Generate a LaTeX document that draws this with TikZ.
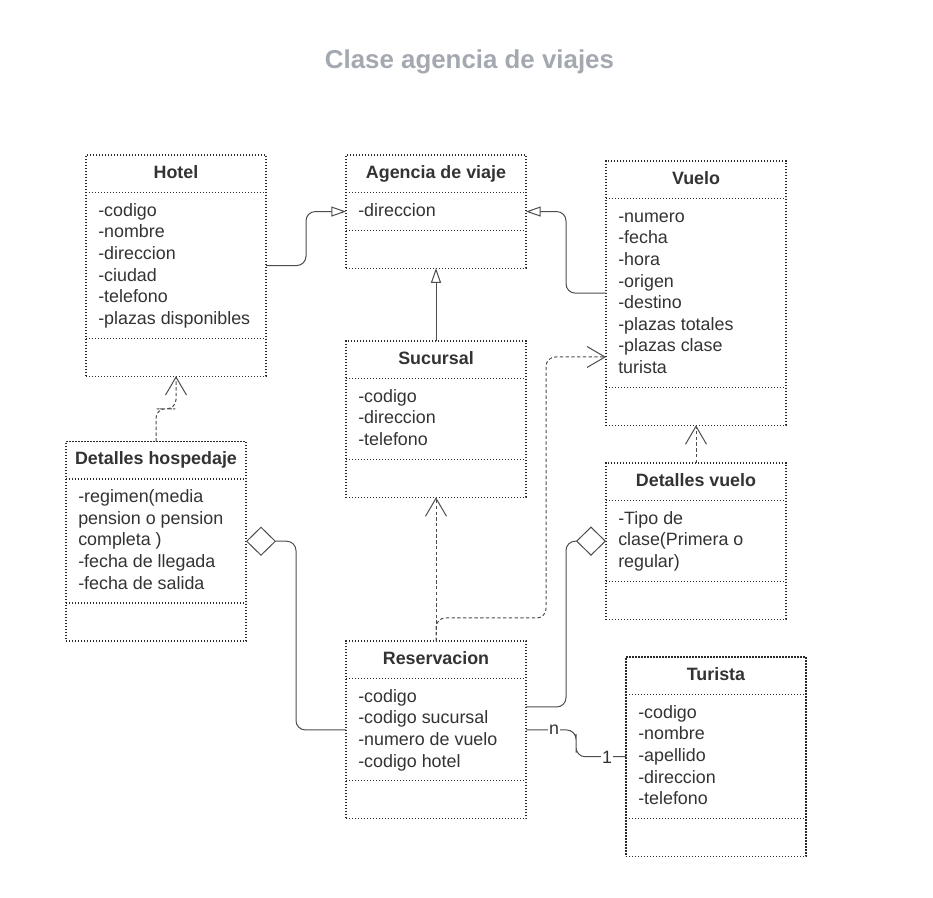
\documentclass[tikz,border=0pt]{standalone}
\usepackage{fontspec}
\setmainfont{Liberation Sans}
\usetikzlibrary{arrows.meta,calc}
\definecolor{txt}{HTML}{333333}
\definecolor{ttlgray}{HTML}{A3A8B1}
\definecolor{bord}{HTML}{2A2A2A}
\definecolor{conn}{HTML}{4D4D4D}
\tikzset{
 clsbox/.style={rectangle, draw=bord, line width=0.8pt, dash pattern=on 0.8pt off 1.45pt, minimum width=135pt, inner sep=0pt, outer sep=0pt},
 boxline/.style={draw=bord, line width=0.8pt, dash pattern=on 0.8pt off 1.45pt},
 clstitle/.style={font=\fontsize{13.4}{16}\selectfont\bfseries, text=txt, anchor=base, inner sep=0pt},
 attr/.style={font=\fontsize{13.4}{16}\selectfont, text=txt, anchor=base west, inner sep=0pt},
 conline/.style={draw=conn, line width=0.75pt, rounded corners=7pt},
 gen/.style={conline, -{Triangle[open, length=11pt, width=7.5pt]}},
 dep/.style={conline, dash pattern=on 2.5pt off 1.8pt, -{Straight Barb[length=13.5pt, width=15.75pt]}},
 agg/.style={conline, {Diamond[open, length=22.5pt, width=22pt]}-},
 mult/.style={font=\fontsize{13.4}{16}\selectfont, text=txt, fill=white, inner sep=0.8pt},
}
\newcommand\umlclass[6]{%
 \pgfmathsetmacro\clsH{(91.5+21.6*#4)*0.75}%
 \node[clsbox, minimum height=\clsH pt, anchor=north west] (#1) at (#2,#3) {};
 \draw[boxline] ($(#1.north west)+(0,37.5)$) -- ($(#1.north east)+(0,37.5)$);
 \pgfmathsetmacro\clsL{37.5+21.6*#4+16}%
 \draw[boxline] ($(#1.north west)+(0,\clsL)$) -- ($(#1.north east)+(0,\clsL)$);
 \node[clstitle] (#1-t) at ($(#1.north)+(0,23.3)$) {#5};
 \foreach \a [count=\i] in {#6} {
   \node[attr] (#1-a\i) at ($(#1.north west)+(12,{61.3+21.6*(\i-1)})$) {\a};
 }
}
\begin{document}
\begin{tikzpicture}[x=0.75pt,y=-0.75pt]
\fill[white] (0,0) rectangle (933,898);
\useasboundingbox (0,0) rectangle (933,898);

\node[font=\fontsize{19.4}{23}\selectfont\bfseries, text=ttlgray, anchor=base, inner sep=0pt] (title) at (469.5,68.5) {Clase agencia de viajes};

\umlclass{hotel}{86}{155}{6}{Hotel}{-codigo,-nombre,-direccion,-ciudad,-telefono,-plazas disponibles}
\umlclass{agencia}{346}{155}{1}{Agencia de viaje}{-direccion}
\umlclass{vuelo}{606}{161}{8}{Vuelo}{-numero,-fecha,-hora,-origen,-destino,-plazas totales,-plazas clase,turista}
\umlclass{sucursal}{346}{341}{3}{Sucursal}{-codigo,-direccion,-telefono}
\umlclass{dh}{66}{441.5}{5}{Detalles hospedaje}{-regimen(media,pension o pension,completa ),-fecha de llegada,-fecha de salida}
\umlclass{dv}{606}{463}{3}{Detalles vuelo}{-Tipo de,clase(Primera o,regular)}
\umlclass{res}{346}{641}{4}{Reservacion}{-codigo,-codigo sucursal,-numero de vuelo,-codigo hotel}
\umlclass{turista}{626}{657}{5}{Turista}{-codigo,-nombre,-apellido,-direccion,-telefono}

\coordinate (resR) at ($(res.north east)+(0,66)$);
\coordinate (vueloL) at ($(vuelo.north west)+(0,196)$);
\coordinate (rvbend) at (546,618);

% generalizations
\draw[gen] (hotel.east) -| ($(hotel.east)!.5!(agencia.west)$) |- (agencia.west);
\draw[gen] (vuelo.west) -| ($(vuelo.west)!.5!(agencia.east)$) |- (agencia.east);
\draw[gen] (sucursal.north) -- (agencia.south);

% dependencies
\draw[dep] (dh.north) |- ($(dh.north)!.5!(hotel.south)$) -| (hotel.south);
\draw[dep] (dv.north) -- (vuelo.south);
\draw[dep] (res.north) -- (sucursal.south);
\draw[dep] (res.north) |- (rvbend) |- (vueloL);

% aggregations
\draw[agg] (dh.east) -| ($(dh.east)!.5!(res.west)$) |- (res.west);
\draw[agg] (dv.west) -| ($(resR)!.5!(dv.west)$) |- (resR);

% association
\draw[conline] (res.east) -| ($(res.east)!.5!(turista.west)$) |- (turista.west);
\node[mult] (mn) at (554,730) {n};
\node[mult] (m1) at (607,757) {1};
\end{tikzpicture}
\end{document}
